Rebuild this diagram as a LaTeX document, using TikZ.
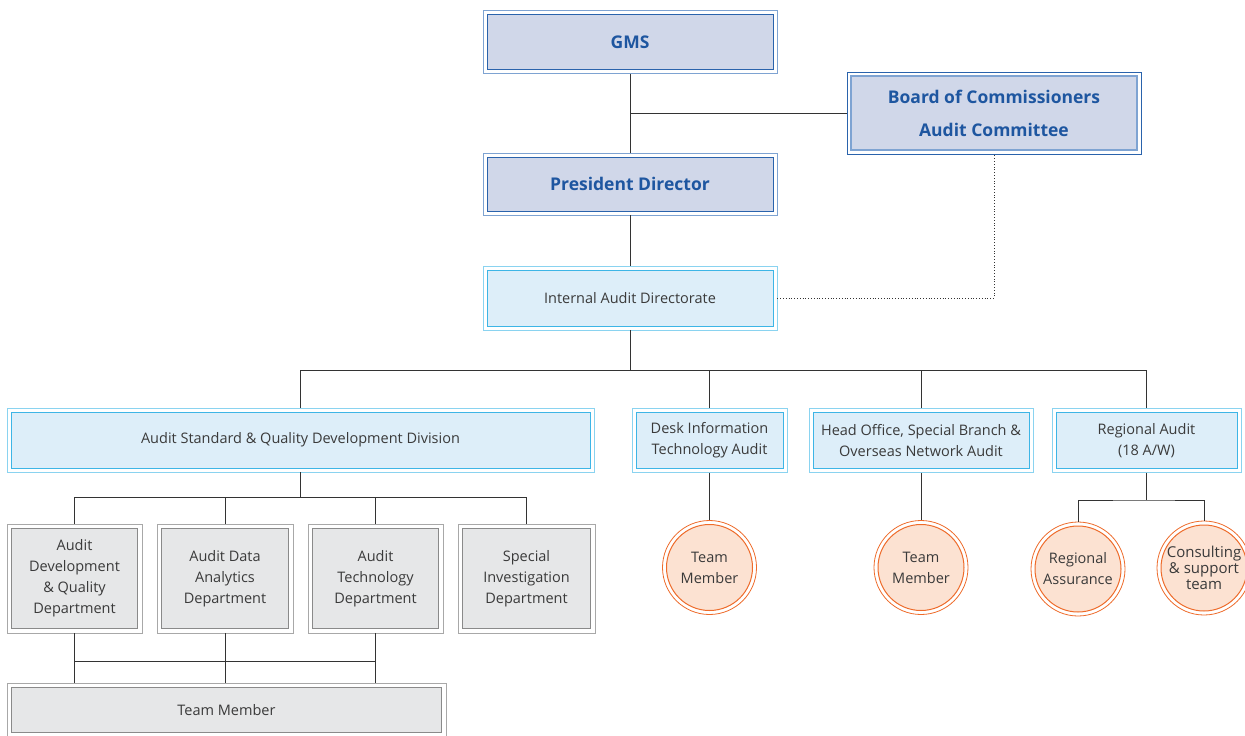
\documentclass[tikz,border=0pt]{standalone}
\usepackage{fontspec}
\setmainfont{Open Sans}
\definecolor{bfill}{HTML}{D0D7E9}
\definecolor{bdark}{HTML}{2A63AC}
\definecolor{blight}{HTML}{7EA3D2}
\definecolor{btext}{HTML}{1E56A0}
\definecolor{cfill}{HTML}{DDEEF9}
\definecolor{cdark}{HTML}{3DB5E6}
\definecolor{clight}{HTML}{8AD3F0}
\definecolor{gfill}{HTML}{E6E7E8}
\definecolor{gdark}{HTML}{8A8A8A}
\definecolor{glight}{HTML}{A8A8A8}
\definecolor{pfill}{HTML}{FCE2D2}
\definecolor{orng}{HTML}{EE6B2A}
\definecolor{ttext}{HTML}{3A3A3A}
\definecolor{conn}{HTML}{333333}
\tikzset{
  base/.style={rectangle, inner sep=0pt, line width=0.8pt, fill=white, align=center},
  bluebox/.style={base, draw=blight, text=btext,
    font=\fontsize{17.5}{33}\selectfont\bfseries,
    path picture={\draw[draw=bdark, fill=bfill, line width=0.8pt]
      ([shift={(4pt,-4pt)}]path picture bounding box.north west) rectangle
      ([shift={(-4pt,4pt)}]path picture bounding box.south east);}},
  bluebox2/.style={base, draw=bdark, text=btext,
    font=\fontsize{17.5}{33}\selectfont\bfseries,
    path picture={\draw[draw=blight, fill=bfill, line width=1.2pt]
      ([shift={(4pt,-4pt)}]path picture bounding box.north west) rectangle
      ([shift={(-4pt,4pt)}]path picture bounding box.south east);}},
  cyanbox/.style={base, draw=clight, text=ttext,
    font=\fontsize{14.5}{21}\selectfont,
    path picture={\draw[draw=cdark, fill=cfill, line width=0.8pt]
      ([shift={(4pt,-4pt)}]path picture bounding box.north west) rectangle
      ([shift={(-4pt,4pt)}]path picture bounding box.south east);}},
  graybox/.style={base, draw=glight, text=ttext,
    font=\fontsize{14.5}{21}\selectfont,
    path picture={\draw[draw=gdark, fill=gfill, line width=0.8pt]
      ([shift={(4.5pt,-4.5pt)}]path picture bounding box.north west) rectangle
      ([shift={(-4.5pt,4.5pt)}]path picture bounding box.south east);}},
  orcircle/.style={circle, inner sep=0pt, line width=0.8pt, draw=orng, fill=white,
    align=center, text=ttext, minimum size=94pt,
    font=\fontsize{14.5}{21}\selectfont,
    path picture={\draw[draw=orng, fill=pfill, line width=1pt]
      (path picture bounding box.center) circle (43pt);}},
  conline/.style={draw=conn, line width=0.8pt},
}
\begin{document}
\begin{tikzpicture}[x=1pt,y=-1pt]
\useasboundingbox (0,0) rectangle (1245,736);

% top level
\node[bluebox, minimum width=294pt, minimum height=63pt] (gms) at (630,42) {GMS};
\node[bluebox2, minimum width=294pt, minimum height=82pt] (board) at (994,113)
  {Board of Commissioners\\Audit Committee};
\node[bluebox, minimum width=294pt, minimum height=62pt] (pd) at (630,184) {President Director};
\node[cyanbox, minimum width=294pt, minimum height=64pt] (iad) at (630,298) {Internal Audit Directorate};

% second level
\node[cyanbox, minimum width=587pt, minimum height=64pt] (asq) at (300.5,440)
  {Audit Standard \& Quality Development Division};
\node[cyanbox, minimum width=155pt, minimum height=64pt] (desk) at (709.5,440.5)
  {Desk Information\\Technology Audit};
\node[cyanbox, minimum width=224pt, minimum height=64pt] (head) at (921,440.5)
  {Head Office, Special Branch \&\\Overseas Network Audit};
\node[cyanbox, minimum width=189pt, minimum height=64pt] (reg) at (1146.5,440.5)
  {Regional Audit\\(18 A/W)};

% departments
\node[graybox, minimum width=135pt, minimum height=109pt] (d1) at (74.5,578.5)
  {Audit\\Development\\\& Quality\\Department};
\node[graybox, minimum width=136pt, minimum height=109pt] (d2) at (225,578.5)
  {Audit Data\\Analytics\\Department};
\node[graybox, minimum width=135pt, minimum height=109pt] (d3) at (375.5,578.5)
  {Audit\\Technology\\Department};
\node[graybox, minimum width=137pt, minimum height=109pt] (d4) at (526.5,578.5)
  {Special\\Investigation\\Department};
\node[graybox, minimum width=439pt, minimum height=54pt] (tm) at (226.5,710) {Team Member};

% circles
\node[orcircle] (tm1) at (709.5,567.5) {Team\\Member};
\node[orcircle] (tm2) at (921,567.5) {Team\\Member};
\node[orcircle] (ra) at (1078,569) {Regional\\Assurance};
\node[orcircle, font=\fontsize{15}{16}\selectfont] (cs) at (1204,568) {Consulting\\\& support\\team};

% connectors
\coordinate (h1) at (630,370);
\coordinate (h2) at (300.5,497);
\coordinate (h3) at (226,661);
\coordinate (h4) at (1146.5,500);

\draw[conline] (gms.south) -- (pd.north);
\draw[conline] (board.west) -- (board.west -| gms.south);
\draw[conline] (pd.south) -- (iad.north);
\draw[draw=conn, line width=0.8pt, dotted] (iad.east) -| (board.south);

\draw[conline] (iad.south) -- (h1);
\draw[conline] (asq.north) |- (reg.north |- h1) -- (reg.north);
\draw[conline] (desk.north) -- (desk.north |- h1);
\draw[conline] (head.north) -- (head.north |- h1);

\draw[conline] (asq.south) -- (h2);
\draw[conline] (d1.north) |- (d4.north |- h2) -- (d4.north);
\draw[conline] (d2.north) -- (d2.north |- h2);
\draw[conline] (d3.north) -- (d3.north |- h2);

\draw[conline] (d1.south) -- (d1.south |- tm.north);
\draw[conline] (d2.south) -- (d2.south |- tm.north);
\draw[conline] (d3.south) -- (d3.south |- tm.north);
\draw[conline] (d1.south |- h3) -- (d3.south |- h3);

\draw[conline] (desk.south) -- (tm1.north);
\draw[conline] (head.south) -- (tm2.north);
\draw[conline] (reg.south) -- (h4);
\draw[conline] (ra.north) |- (h4) -| (cs.north);
\end{tikzpicture}
\end{document}
